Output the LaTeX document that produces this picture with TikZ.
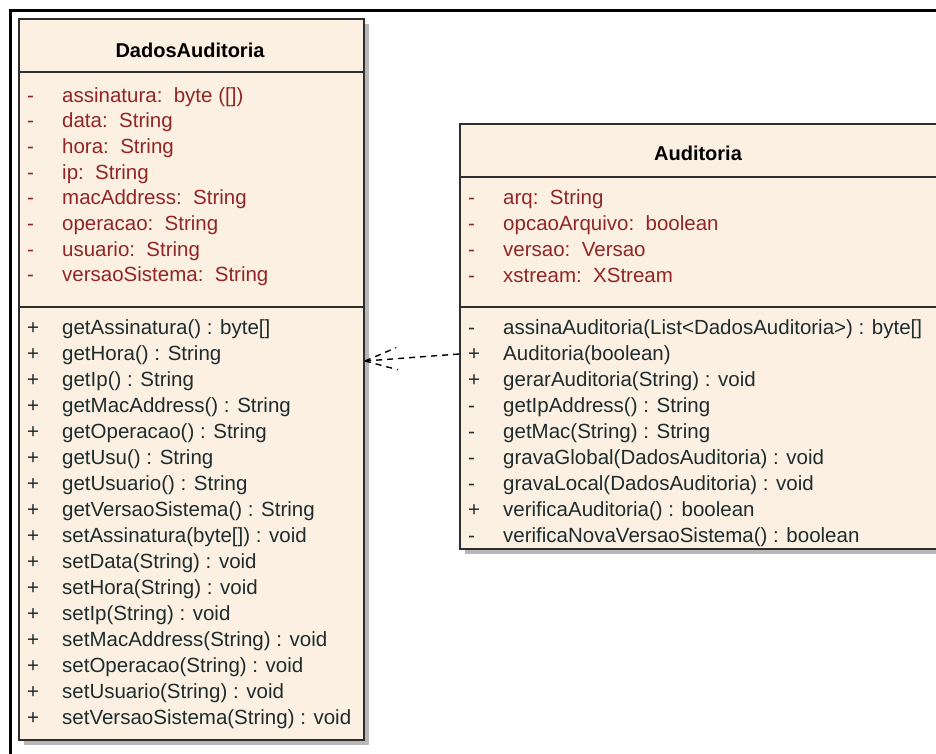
\documentclass[tikz,border=0pt]{standalone}
\usepackage{fontspec}
\setmainfont{Liberation Sans}
\usetikzlibrary{shadows,calc}

\definecolor{classfill}{HTML}{FBF0E1}
\definecolor{classline}{HTML}{2E2E2E}
\definecolor{attrcol}{HTML}{922626}
\definecolor{methcol}{HTML}{1E2C2E}
\definecolor{shadowcol}{HTML}{B8B8B8}

\tikzset{
  classbox/.style={draw=classline, line width=2pt, fill=classfill,
    anchor=north west, inner sep=0pt,
    drop shadow={shadow xshift=5pt, shadow yshift=-5pt, fill=shadowcol, opacity=1}},
  sepline/.style={draw=classline, line width=2pt},
  title/.style={anchor=base, inner sep=0pt, font=\fontsize{20}{24}\selectfont\bfseries, text=black},
  attrtext/.style={anchor=base west, inner sep=0pt, text=attrcol},
  methtext/.style={anchor=base west, inner sep=0pt, text=methcol},
  dep/.style={draw=black, line width=1.4pt, dash pattern=on 6pt off 5pt},
  frameline/.style={draw=black, line width=3pt}
}

\begin{document}
\begin{tikzpicture}[x=1pt, y=-1pt, font=\fontsize{20.5}{24}\selectfont]
\useasboundingbox (0,0) rectangle (936,753);

% surrounding frame
\draw[frameline] (10,800) -- (10,10) -- (1000,10);

% ---------- class DadosAuditoria ----------
\node[classbox, minimum width=345pt, minimum height=721pt] (dados) at (18,18) {};
\draw[sepline] (dados.west |- 0,72) -- (dados.east |- 0,72);
\draw[sepline] (dados.west |- 0,307) -- (dados.east |- 0,307);
\node[title] (dadostitle) at (190,57) {DadosAuditoria};

\foreach \t [count=\i] in {
  {assinatura:\ \ byte ([])},
  {data:\ \ String},
  {hora:\ \ String},
  {ip:\ \ String},
  {macAddress:\ \ String},
  {operacao:\ \ String},
  {usuario:\ \ String},
  {versaoSistema:\ \ String}} {
  \node[attrtext] (dav\i) at (27,{102+25.7*(\i-1)}) {-};
  \node[attrtext] (da\i) at (62,{102+25.7*(\i-1)}) {\t};
}

\foreach \t [count=\i] in {
  {getAssinatura() : byte[]},
  {getHora() : String},
  {getIp() : String},
  {getMacAddress() : String},
  {getOperacao() : String},
  {getUsu() : String},
  {getUsuario() : String},
  {getVersaoSistema() : String},
  {setAssinatura(byte[]) : void},
  {setData(String) : void},
  {setHora(String) : void},
  {setIp(String) : void},
  {setMacAddress(String) : void},
  {setOperacao(String) : void},
  {setUsuario(String) : void},
  {setVersaoSistema(String) : void}} {
  \node[methtext] (dmv\i) at (27,{334+26*(\i-1)}) {+};
  \node[methtext] (dm\i) at (62,{334+26*(\i-1)}) {\t};
}

% ---------- class Auditoria ----------
\node[classbox, minimum width=478pt, minimum height=425pt] (aud) at (459,123) {};
\draw[sepline] (aud.west |- 0,177) -- (aud.east |- 0,177);
\draw[sepline] (aud.west |- 0,307) -- (aud.east |- 0,307);
\node[title] (audtitle) at (698,160) {Auditoria};

\foreach \t [count=\i] in {
  {arq:\ \ String},
  {opcaoArquivo:\ \ boolean},
  {versao:\ \ Versao},
  {xstream:\ \ XStream}} {
  \node[attrtext] (aav\i) at (468,{204+26*(\i-1)}) {-};
  \node[attrtext] (aa\i) at (503,{204+26*(\i-1)}) {\t};
}

\foreach \v/\t [count=\i] in {
  -/{assinaAuditoria(List<DadosAuditoria>) : byte[]},
  +/{Auditoria(boolean)},
  +/{gerarAuditoria(String) : void},
  -/{getIpAddress() : String},
  -/{getMac(String) : String},
  -/{gravaGlobal(DadosAuditoria) : void},
  -/{gravaLocal(DadosAuditoria) : void},
  +/{verificaAuditoria() : boolean},
  -/{verificaNovaVersaoSistema() : boolean}} {
  \node[methtext] (amv\i) at (468,{334+26.1*(\i-1)}) {\v};
  \node[methtext] (am\i) at (503,{334+26.1*(\i-1)}) {\t};
}

% ---------- dependency Auditoria -> DadosAuditoria ----------
\coordinate (depstart) at (aud.west |- 0,354);
\coordinate (deptip) at (dados.east |- 0,361);
\draw[dep] (depstart) -- (deptip);
\draw[dep] (deptip) -- ($(deptip)+(31.2,-13.4)$);
\draw[dep] (deptip) -- ($(deptip)+(32.8,8.7)$);

\end{tikzpicture}
\end{document}
